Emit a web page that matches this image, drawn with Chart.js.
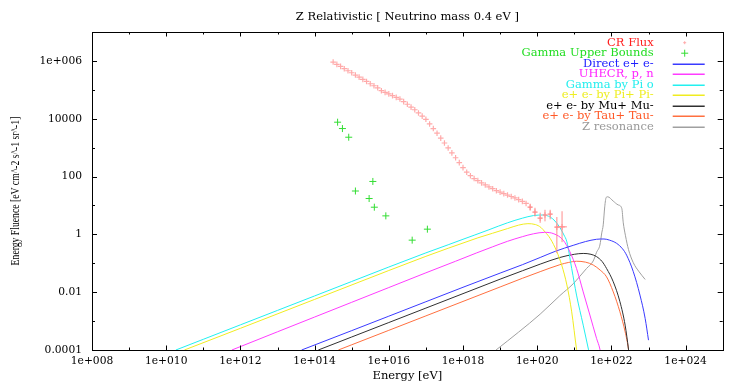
<!DOCTYPE html>
<html><head><meta charset="utf-8">
<script src="https://cdn.jsdelivr.net/npm/chart.js"></script>
<style>html,body{margin:0;padding:0;background:#fff}canvas{display:block}</style>
</head><body>
<canvas id="c" width="747" height="382"></canvas>
<script>
// ---- data, as [log10(E/eV), log10(fluence)] pairs ----
const crBand = [[14.5,5.96],[14.6,5.88],[14.7,5.81],[14.8,5.73],[14.9,5.66],[15.0,5.59],[15.1,5.51],[15.2,5.44],[15.3,5.36],[15.4,5.29],[15.5,5.21],[15.6,5.14],[15.7,5.07],
 [15.8,4.97],[15.9,4.91],[16.0,4.86],[16.1,4.80],[16.2,4.74],[16.3,4.68],[16.4,4.59],[16.5,4.50],[16.6,4.40],[16.7,4.31],[16.8,4.20],[16.9,4.09],[17.0,3.98],[17.1,3.82],[17.2,3.66],[17.3,3.50],[17.4,3.33],[17.5,3.16],[17.6,2.99],[17.7,2.82],[17.8,2.65],[17.9,2.48],[18.0,2.31],[18.1,2.15],[18.2,2.03],[18.3,1.93],[18.4,1.86],[18.5,1.78],[18.6,1.71],[18.7,1.64],[18.8,1.58],[18.9,1.51],[19.0,1.46],[19.1,1.41],[19.2,1.36],[19.3,1.31],[19.4,1.26],[19.5,1.20],[19.6,1.14],[19.7,1.07]];
// tail points with error bars: [logE, logF, logLow, logHigh, halfWidthInDecades]
const crTail = [[19.81,0.94,0.82,1.06,0.05],[19.94,0.77,0.62,0.92,0.05],[20.08,0.56,0.40,0.75,0.05],[20.21,0.67,0.45,0.85,0.05],[20.35,0.70,0.52,0.85,0.05],[20.53,0.25,-0.65,0.60,0.05],[20.67,0.26,-0.27,0.80,0.13]];
const gammaBounds = [[14.62,3.88],[14.75,3.66],[14.92,3.36],[15.10,1.50],[15.57,1.83],[15.47,1.24],[15.61,0.94],[15.92,0.64],[16.63,-0.20],[17.04,0.18]];
const directEE = [[13.65,-4],[15,-3.33],[16,-2.83],[17,-2.33],[18,-1.83],[19,-1.34],[19.6,-1.05],[20.08,-0.80],[20.5,-0.58],[20.97,-0.38],[21.3,-0.25],[21.6,-0.17],[21.8,-0.16],[21.95,-0.20],[22.14,-0.31],[22.3,-0.50],[22.41,-0.72],[22.59,-1.29],[22.77,-2.10],[22.91,-2.91],[23.0,-3.66]];
const uhecr = [[11.77,-4],[13,-3.37],[14,-2.86],[15,-2.35],[16,-1.84],[17,-1.33],[17.8,-0.93],[18.37,-0.64],[18.8,-0.43],[19.2,-0.24],[19.6,-0.08],[19.9,0.02],[20.2,0.07],[20.45,0.02],[20.70,-0.20],[20.88,-0.60],[21.06,-1.18],[21.24,-1.99],[21.42,-2.79],[21.60,-3.60],[21.69,-3.97],[21.72,-4.2]];
const gammaPi0 = [[10.26,-4],[11,-3.63],[12,-3.13],[13,-2.63],[14,-2.13],[15,-1.63],[16,-1.13],[17,-0.64],[17.6,-0.36],[18.0,-0.17],[18.3,-0.03],[18.7,0.16],[19.2,0.40],[19.6,0.56],[19.9,0.65],[20.15,0.67],[20.35,0.60],[20.48,0.46],[20.61,0.24],[20.72,-0.02],[20.80,-0.26],[20.93,-1.18],[21.06,-2.10],[21.24,-3.14],[21.38,-3.97],[21.42,-4.2]];
const eePiPi = [[10.49,-4],[12,-3.25],[14,-2.25],[16,-1.25],[17,-0.76],[17.6,-0.48],[18.0,-0.30],[18.4,-0.12],[18.8,0.04],[19.2,0.20],[19.5,0.32],[19.75,0.37],[19.95,0.34],[20.1,0.24],[20.22,0.07],[20.35,-0.14],[20.53,-0.60],[20.66,-1.06],[20.80,-1.75],[20.93,-2.68],[21.06,-3.97],[21.1,-4.3]];
const eeMuMu = [[14.1,-4],[15,-3.55],[16,-3.05],[17,-2.55],[18,-2.05],[19,-1.55],[19.6,-1.26],[20.08,-1.03],[20.61,-0.80],[21.0,-0.69],[21.24,-0.66],[21.45,-0.69],[21.6,-0.77],[21.75,-0.94],[21.87,-1.18],[22.05,-1.64],[22.23,-2.33],[22.37,-3.14],[22.46,-3.97],[22.48,-4.2]];
const eeTauTau = [[14.64,-4],[15,-3.82],[16,-3.32],[17,-2.82],[18,-2.32],[19,-1.82],[19.6,-1.52],[20.08,-1.29],[20.61,-1.05],[20.85,-0.97],[21.06,-0.93],[21.3,-0.96],[21.51,-1.06],[21.7,-1.24],[21.87,-1.47],[22.05,-1.99],[22.23,-2.68],[22.37,-3.37],[22.46,-3.97],[22.48,-4.2]];
const zResonance = [[18.89,-4],[19.5,-3.38],[20.08,-2.76],[20.61,-2.12],[20.97,-1.71],[21.15,-1.45],[21.33,-1.18],[21.51,-0.92],[21.6,-0.62],[21.69,-0.37],[21.74,0.05],[21.78,0.33],[21.82,0.95],[21.86,1.28],[21.9,1.30],[22.05,1.15],[22.18,1.02],[22.28,0.90],[22.32,0.40],[22.38,-0.05],[22.46,-0.52],[22.59,-0.98],[22.75,-1.30],[22.91,-1.56]];

const xTickValues = [1e8,1e9,1e10,1e11,1e12,1e13,1e14,1e15,1e16,1e17,1e18,1e19,1e20,1e21,1e22,1e23,1e24,1e25];
const xTickLabels = ['1e+008','','1e+010','','1e+012','','1e+014','','1e+016','','1e+018','','1e+020','','1e+022','','1e+024',''];
const yTickValues = [1e-4,1e-3,1e-2,1e-1,1,10,100,1000,1e4,1e5,1e6,1e7];
const yTickLabels = ['0.0001','','0.01','','1','','100','','10000','','1e+006',''];

const titleText = 'Z Relativistic [ Neutrino mass 0.4 eV ]';
const xTitle = 'Energy [eV]';
const yTitle = 'Energy Fluence [eV cm^-2 s^-1 sr^-1]';

const toXY = arr => arr.map(p => ({x: Math.pow(10, p[0]), y: Math.pow(10, p[1])}));
const HFONT = 'DejaVu Serif';

function lineSet(label, arr, color, textColor) {
  return {label, data: toXY(arr), showLine: true, borderColor: color, backgroundColor: color,
    borderWidth: 1, pointRadius: 0, cubicInterpolationMode: 'monotone', legendText: textColor || color, legendKind: 'line'};
}

const datasets = [
  {label: 'CR Flux', data: toXY(crBand.concat(crTail)), pointStyle: 'cross', pointRadius: 2.8, borderColor: '#ffaaaa', borderWidth: 1.2,
    legendText: '#ff2020', legendKind: 'point', legendR: 1.5},
  {label: 'Gamma Upper Bounds', data: toXY(gammaBounds), pointStyle: 'cross', pointRadius: 3.5, borderColor: '#33dd33', borderWidth: 1,
    legendText: '#22dd22', legendKind: 'point', legendR: 3.5},
  lineSet('Direct e+ e-', directEE, '#3a3aff', '#2020ff'),
  lineSet('UHECR, p, n', uhecr, '#ff3cff', '#ff22ff'),
  lineSet('Gamma by Pi o', gammaPi0, '#22f0f0', '#22eeee'),
  lineSet('e+ e- by Pi+ Pi-', eePiPi, '#f0ec20', '#eeee22'),
  lineSet('e+ e- by Mu+ Mu-', eeMuMu, '#303030', '#000000'),
  lineSet('e+ e- by Tau+ Tau-', eeTauTau, '#ff7040', '#ff5a28'),
  lineSet('Z resonance', zResonance, '#a0a0a0', '#999999')
];

const deco = {
  id: 'deco',
  afterDatasetsDraw(chart) {
    const {ctx, scales: {x, y}, chartArea: a} = chart;
    ctx.save();
    ctx.beginPath(); ctx.rect(a.left, a.top, a.right - a.left, a.bottom - a.top); ctx.clip();
    ctx.strokeStyle = '#ff8c8c'; ctx.lineWidth = 1;
    crTail.forEach(p => {
      const px = x.getPixelForValue(Math.pow(10, p[0]));
      const py = y.getPixelForValue(Math.pow(10, p[1]));
      const lo = y.getPixelForValue(Math.pow(10, p[2]));
      const hi = y.getPixelForValue(Math.pow(10, p[3]));
      const xl = x.getPixelForValue(Math.pow(10, p[0] - p[4]));
      const xr = x.getPixelForValue(Math.pow(10, p[0] + p[4]));
      ctx.beginPath();
      ctx.moveTo(px, lo); ctx.lineTo(px, hi);
      ctx.moveTo(xl, py); ctx.lineTo(xr, py);
      ctx.stroke();
    });
    ctx.restore();
  },
  afterDraw(chart) {
    const {ctx, scales: {x, y}, chartArea: a} = chart;
    ctx.save();
    ctx.strokeStyle = '#000'; ctx.lineWidth = 1;
    ctx.strokeRect(Math.round(a.left) + 0.5, Math.round(a.top) + 0.5, Math.round(a.right - a.left), Math.round(a.bottom - a.top));
    ctx.beginPath();
    xTickValues.forEach((v, i) => {
      const px = Math.round(x.getPixelForValue(v)) + 0.5;
      const len = xTickLabels[i] ? 4.5 : 2.5;
      ctx.moveTo(px, a.bottom); ctx.lineTo(px, a.bottom - len);
      ctx.moveTo(px, a.top); ctx.lineTo(px, a.top + len);
    });
    yTickValues.forEach((v, i) => {
      const py = Math.round(y.getPixelForValue(v)) + 0.5;
      const len = yTickLabels[i] ? 5 : 3;
      ctx.moveTo(a.left, py); ctx.lineTo(a.left + len, py);
      ctx.moveTo(a.right, py); ctx.lineTo(a.right - len, py);
    });
    ctx.stroke();

    const cx = (a.left + a.right) / 2;
    ctx.fillStyle = '#000';
    ctx.textAlign = 'center'; ctx.textBaseline = 'middle';
    ctx.font = '11.5px "' + HFONT + '"';
    ctx.fillText(titleText, cx, a.top - 15);
    ctx.fillText(xTitle, cx, a.bottom + 26.5);
    ctx.save();
    ctx.translate(a.left - 76, (a.top + a.bottom) / 2);
    ctx.rotate(-Math.PI / 2);
    ctx.scale(1, 1.25);
    ctx.font = '9.7px "Liberation Serif"';
    ctx.fillText(yTitle, 0, 0);
    ctx.restore();

    // legend
    ctx.font = '11.5px "' + HFONT + '"';
    ctx.textAlign = 'right';
    chart.data.datasets.forEach((ds, i) => {
      const ty = a.top + 10.7 + i * 10.5;
      ctx.fillStyle = ds.legendText;
      ctx.fillText(ds.label, a.right - 69, ty);
      ctx.strokeStyle = ds.borderColor;
      ctx.beginPath();
      if (ds.legendKind === 'line') {
        ctx.lineWidth = 1.4;
        ctx.moveTo(a.right - 50, Math.round(ty) + 0.3); ctx.lineTo(a.right - 18, Math.round(ty) + 0.3);
      } else {
        ctx.lineWidth = 1;
        const r = ds.legendR, px = a.right - 38;
        ctx.moveTo(px - r, ty); ctx.lineTo(px + r, ty);
        ctx.moveTo(px, ty - r); ctx.lineTo(px, ty + r);
      }
      ctx.stroke();
    });
    ctx.restore();
  }
};

new Chart(document.getElementById('c'), {
  type: 'scatter',
  data: {datasets},
  options: {
    responsive: false, animation: false, devicePixelRatio: 1,
    layout: {padding: {left: 0, right: 24.3, top: 32, bottom: 0}},
    plugins: {legend: {display: false}, tooltip: {enabled: false}, title: {display: false}},
    scales: {
      x: {type: 'logarithmic', min: 1e8, max: 1e25,
        grid: {display: false, drawTicks: false}, border: {display: false},
        afterBuildTicks: s => { s.ticks = xTickValues.map(v => ({value: v})); },
        afterFit: s => { s.height = 32; },
        ticks: {autoSkip: false, maxRotation: 0, padding: 5, color: '#000',
          font: {family: HFONT, size: 10.7},
          callback: (v, i) => xTickLabels[i]}},
      y: {type: 'logarithmic', min: 1e-4, max: 1e7,
        grid: {display: false, drawTicks: false}, border: {display: false},
        afterBuildTicks: s => { s.ticks = yTickValues.map(v => ({value: v})); },
        afterFit: s => { s.width = 92; },
        ticks: {autoSkip: false, padding: 10, color: '#000',
          font: {family: HFONT, size: 10.7},
          callback: (v, i) => yTickLabels[i]}}
    }
  },
  plugins: [deco]
});
</script>
</body></html>
